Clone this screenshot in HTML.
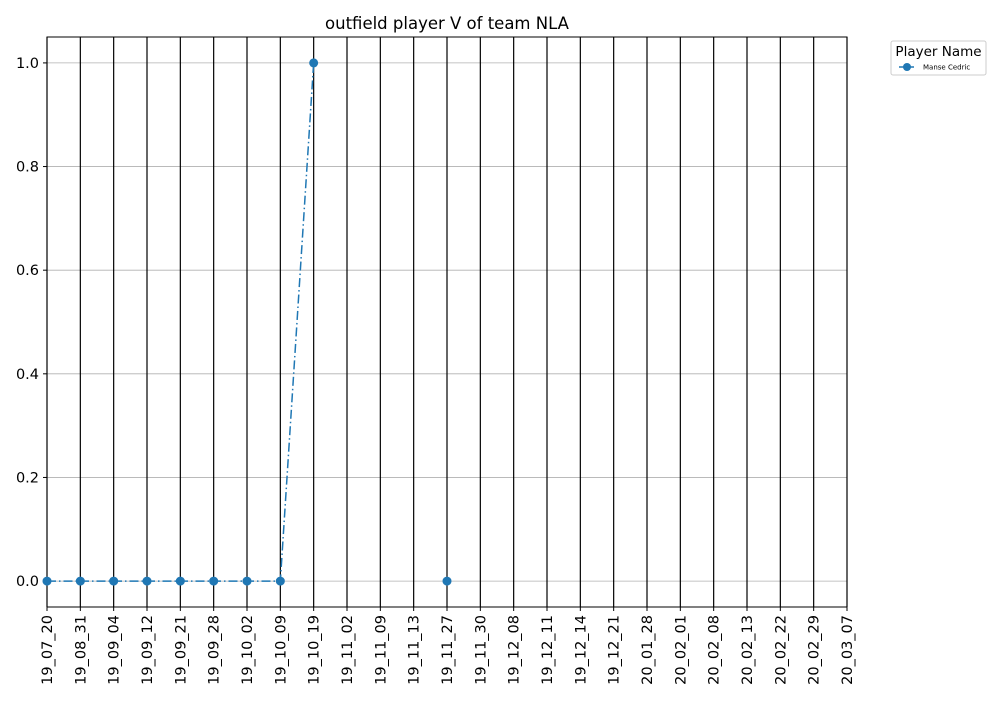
<!DOCTYPE html>
<html><head><meta charset="utf-8"><style>
body{margin:0;background:#fff;font-family:"Liberation Sans","DejaVu Sans",sans-serif}
</style></head><body>
<svg id="chart" width="1000" height="700" xmlns="http://www.w3.org/2000/svg" font-family="DejaVu Sans, Liberation Sans, sans-serif"></svg>
<script>
const categories=["19_07_20","19_08_31","19_09_04","19_09_12","19_09_21","19_09_28","19_10_02","19_10_09","19_10_19","19_11_02","19_11_09","19_11_13","19_11_27","19_11_30","19_12_08","19_12_11","19_12_14","19_12_21","20_01_28","20_02_01","20_02_08","20_02_13","20_02_22","20_02_29","20_03_07"];
const values=[0,0,0,0,0,0,0,0,1,null,null,null,0,null,null,null,null,null,null,null,null,null,null,null,null];
const yTicks=[0.0,0.2,0.4,0.6,0.8,1.0];
const L=47,R=847,T=37,B=607,yMin=-0.05,yMax=1.05;
const svg=document.getElementById('chart');const NS="http://www.w3.org/2000/svg";
function x(i){return L+(R-L)*i/(categories.length-1);}
function y(v){return B-(v-yMin)/(yMax-yMin)*(B-T);}
function mk(t,a,p){const e=document.createElementNS(NS,t);for(const k in a)e.setAttribute(k,a[k]);(p||svg).appendChild(e);return e;}
yTicks.forEach(v=>{
 const g=mk('line',{x1:L,x2:R,y1:y(v),y2:y(v),stroke:'#b0b0b0','stroke-width':0.8});
 
 
 mk('line',{x1:L-4,x2:L,y1:y(v),y2:y(v),stroke:'#000'});
 const t=mk('text',{x:L-8,y:y(v)+5,'text-anchor':'end','font-size':14.5});t.textContent=v.toFixed(1);
 
 
});
categories.forEach((c,i)=>{
 const g=mk('line',{x1:x(i),x2:x(i),y1:T,y2:B,stroke:'#000','stroke-width':1.2});
 
 
 mk('line',{x1:x(i),x2:x(i),y1:B,y2:B+4,stroke:'#000'});
 const t=mk('text',{x:0,y:0,'text-anchor':'end','font-size':14.5,transform:`translate(${x(i)+5},${B+8}) rotate(-90)`});t.textContent=c;
 
 
});
const fr=mk('rect',{x:L,y:T,width:R-L,height:B-T,fill:'none',stroke:'#000','stroke-width':1});


let d='',pen=false;
values.forEach((v,i)=>{if(v===null){pen=false;return;}d+=(pen?'L':'M')+x(i)+' '+y(v)+' ';pen=true;});
const ln=mk('path',{d:d,fill:'none',stroke:'#1f77b4','stroke-width':1.5,'stroke-dasharray':'9,3,1.5,3'});


values.forEach((v,i)=>{if(v===null)return;
 const c=mk('circle',{cx:x(i),cy:y(v),r:4.5,fill:'#1f77b4'});
 
 
});
const ti=mk('text',{x:447,y:29,'text-anchor':'middle','font-size':16.5});ti.textContent='outfield player V of team NLA';


const lg=mk('g',{});


mk('rect',{x:891,y:41,width:95,height:34,rx:2,fill:'#fff',stroke:'#ccc'},lg);
const lt=mk('text',{x:938.5,y:56,'text-anchor':'middle','font-size':13.5},lg);lt.textContent='Player Name';


mk('line',{x1:899,x2:914,y1:67,y2:67,stroke:'#1f77b4','stroke-width':1.5},lg);
mk('circle',{cx:907,cy:67,r:4,fill:'#1f77b4'},lg);
const le=mk('text',{x:923,y:69.5,'font-size':7},lg);le.textContent='Manse Cedric';


</script>
</body></html>
